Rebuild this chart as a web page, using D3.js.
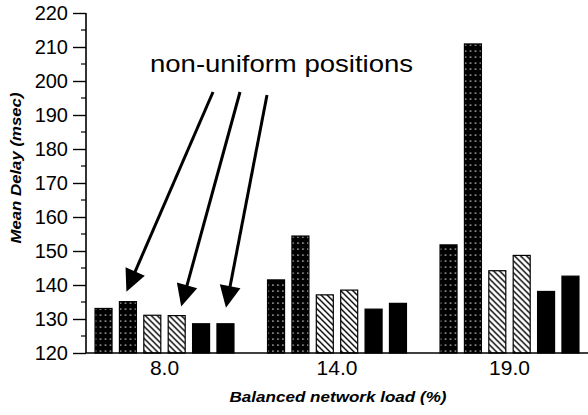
<!DOCTYPE html>
<html>
<head>
<meta charset="utf-8">
<script src="https://cdn.jsdelivr.net/npm/d3@7"></script>
<style>
  html, body { margin: 0; padding: 0; background: #fff; }
  svg { display: block; }
  text { font-family: "Liberation Sans", Arial, Helvetica, sans-serif; fill: #000; }
</style>
</head>
<body>
<svg id="chart" width="588" height="415"></svg>
<script>
// Balanced network load groups (x categories)
const loads = ["8.0", "14.0", "19.0"];

// Mean delay (msec) for each of the six bars in every load group
const bar1 = [133.1, 141.5, 151.8];
const bar2 = [135.1, 154.4, 210.9];
const bar3 = [131.1, 137.1, 144.2];
const bar4 = [131.0, 138.5, 148.7];
const bar5 = [128.6, 132.9, 138.1];
const bar6 = [128.6, 134.6, 142.6];
const seriesValues = [bar1, bar2, bar3, bar4, bar5, bar6];

// Y axis ticks
const yMajorTicks = [120, 130, 140, 150, 160, 170, 180, 190, 200, 210, 220];
const yMinorTicks = [125, 135, 145, 155, 165, 175, 185, 195, 205, 215];

// Fill used by each bar position: dotted, dotted, hatched, hatched, solid, solid
const seriesFill = ["url(#dots)", "url(#dots)", "url(#hatch)", "url(#hatch)", "#000", "#000"];

// Bars pointed at by the annotation arrows: [group index, bar index]
const arrowTargets = [[0, 1], [0, 3], [0, 5]];

const svg = d3.select("#chart");

const x0 = d3.scaleBand()
  .domain(loads)
  .range([78.25, 595.75])
  .paddingInner(0.109)
  .paddingOuter(0.0545);

const x1 = d3.scaleBand()
  .domain(d3.range(seriesValues.length))
  .range([0, x0.bandwidth()])
  .padding(0.303);

const y = d3.scaleLinear().domain([120, 220]).range([353, 13]);

// Patterns
const defs = svg.append("defs");
const dots = defs.append("pattern")
  .attr("id", "dots")
  .attr("patternUnits", "userSpaceOnUse")
  .attr("width", 5).attr("height", 6);
dots.append("rect").attr("width", 5).attr("height", 6).attr("fill", "#000");
dots.append("rect").attr("x", 2).attr("y", 2.5).attr("width", 1.6).attr("height", 1.2).attr("fill", "#d8d8d8");

const hatch = defs.append("pattern")
  .attr("id", "hatch")
  .attr("patternUnits", "userSpaceOnUse")
  .attr("width", 6).attr("height", 6);
hatch.append("rect").attr("width", 6).attr("height", 6).attr("fill", "#fff");
hatch.append("path")
  .attr("d", "M-1,-1 L7,7 M-1,5 L1,7 M5,-1 L7,1")
  .attr("stroke", "#000").attr("stroke-width", 1.4);

defs.append("clipPath").attr("id", "plotClip")
  .append("rect").attr("x", 86).attr("y", 0).attr("width", 502).attr("height", 354);

// Bars
const groups = svg.append("g").attr("clip-path", "url(#plotClip)")
  .selectAll("g.group")
  .data(loads)
  .join("g")
  .attr("class", "group")
  .attr("transform", d => `translate(${x0(d)},0)`);

groups.selectAll("rect")
  .data((d, gi) => seriesValues.map((vals, si) => ({ si, v: vals[gi] })))
  .join("rect")
  .attr("x", d => x1(d.si))
  .attr("width", x1.bandwidth())
  .attr("y", d => y(d.v))
  .attr("height", d => y(120) - y(d.v))
  .attr("fill", d => seriesFill[d.si])
  .attr("stroke", "#000")
  .attr("stroke-width", 1.2);

// Y axis
const yAxis = svg.append("g").attr("transform", "translate(86,0)");
yAxis.call(d3.axisLeft(y).tickValues(yMajorTicks).tickSize(13).tickPadding(5).tickFormat(d3.format("d")))
  .call(g => g.select(".domain").remove());
yAxis.selectAll(".tick line").attr("stroke", "#000").attr("stroke-width", 1.4);
yAxis.selectAll(".tick text").style("font-size", "20px").attr("fill", "#000");
yAxis.selectAll(".minor").data(yMinorTicks).join("line")
  .attr("class", "minor")
  .attr("x1", -5).attr("x2", 0)
  .attr("y1", d => y(d)).attr("y2", d => y(d))
  .attr("stroke", "#000").attr("stroke-width", 1.2);
yAxis.append("line")
  .attr("x1", 0).attr("x2", 0).attr("y1", y(220)).attr("y2", y(120))
  .attr("stroke", "#000").attr("stroke-width", 1.6);

// X axis baseline and category labels
svg.append("line")
  .attr("x1", 86).attr("x2", 588).attr("y1", y(120)).attr("y2", y(120))
  .attr("stroke", "#000").attr("stroke-width", 1.4);

svg.append("g").selectAll("text")
  .data(loads)
  .join("text")
  .attr("x", d => x0(d) + x0.bandwidth() / 2)
  .attr("y", 375)
  .attr("text-anchor", "middle")
  .style("font-size", "21px")
  .text(d => d);

// Axis titles
svg.append("text")
  .attr("x", 338).attr("y", 402)
  .attr("text-anchor", "middle")
  .attr("textLength", 217).attr("lengthAdjust", "spacingAndGlyphs")
  .style("font-size", "14px").style("font-weight", "bold").style("font-style", "italic")
  .text("Balanced network load (%)");

svg.append("text")
  .attr("transform", "translate(21,168) rotate(-90)")
  .attr("text-anchor", "middle")
  .attr("textLength", 151).attr("lengthAdjust", "spacingAndGlyphs")
  .style("font-size", "14px").style("font-weight", "bold").style("font-style", "italic")
  .text("Mean Delay (msec)");

// Annotation
svg.append("text")
  .attr("x", 150).attr("y", 72)
  .attr("textLength", 263).attr("lengthAdjust", "spacingAndGlyphs")
  .style("font-size", "24px")
  .text("non-uniform positions");

const arrowStarts = [[213, 92], [240, 92], [267, 95]];
const tipOffsets = [[-1.5, -10], [4.5, -9], [0.5, -16]];
const headLen = 22, headHalf = 10.5;

arrowTargets.forEach(([gi, si], i) => {
  const g = loads[gi];
  const tx = x0(g) + x1(si) + x1.bandwidth() / 2 + tipOffsets[i][0];
  const ty = y(seriesValues[si][gi]) + tipOffsets[i][1];
  const [sx, sy] = arrowStarts[i];
  const len = Math.hypot(tx - sx, ty - sy);
  const ux = (tx - sx) / len, uy = (ty - sy) / len;
  const bx = tx - ux * headLen, by = ty - uy * headLen;
  svg.append("line")
    .attr("x1", sx).attr("y1", sy).attr("x2", bx + ux * 2).attr("y2", by + uy * 2)
    .attr("stroke", "#000").attr("stroke-width", 3);
  svg.append("path")
    .attr("d", `M${tx},${ty} L${bx - uy * headHalf},${by + ux * headHalf} L${bx + uy * headHalf},${by - ux * headHalf} Z`)
    .attr("fill", "#000");
});
</script>
</body>
</html>
